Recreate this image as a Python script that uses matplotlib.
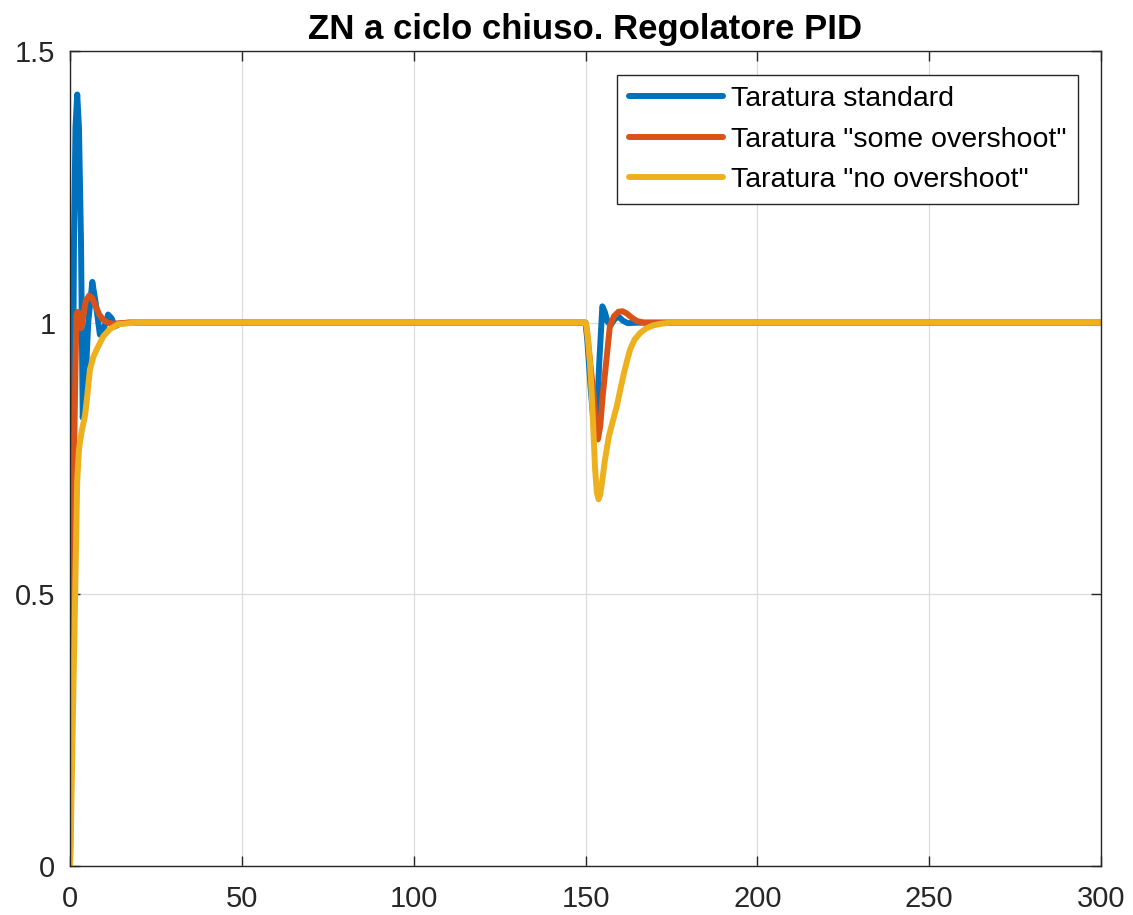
import matplotlib
matplotlib.use("Agg")
import matplotlib.pyplot as plt

plt.rcParams['font.family'] = ['Liberation Sans', 'DejaVu Sans']

title = 'ZN a ciclo chiuso. Regolatore PID'
labels = ['Taratura standard', 'Taratura "some overshoot"', 'Taratura "no overshoot"']
colors = ['#0072BD', '#D95319', '#EDB120']

t_std = [0, 0.3, 0.77, 1.16, 1.6, 2.1, 2.6, 3.2, 3.7, 4.3, 5.3, 6.5, 7.5, 8.7, 9.9,
         11.1, 12.1, 13.1, 14.5, 17, 150, 150.5, 151.5, 152.3, 153.1, 154.0, 154.9,
         155.6, 156.4, 157.3, 158.3, 159.5, 160.8, 162.3, 165, 300]
y_std = [0, 0.25, 0.75, 1.15, 1.36, 1.42, 1.36, 1.15, 0.825, 0.86, 1.0, 1.075, 1.035,
         0.978, 0.99, 1.015, 1.008, 0.993, 0.998, 1.0, 1.0, 0.97, 0.88, 0.82, 0.80,
         0.926, 1.03, 1.02, 1.002, 0.995, 1.005, 1.012, 1.004, 0.999, 1.0, 1.0]

t_some = [0, 0.3, 0.6, 1.16, 1.6, 1.9, 2.3, 2.8, 3.2, 3.8, 4.6, 5.6, 6.5, 7.5, 8.5,
          9.7, 11.0, 12.5, 14.5, 17, 150, 150.5, 151.3, 152.3, 153.0, 153.6, 154.3,
          155.0, 156.0, 157.1, 158.3, 159.6, 160.8, 162.0, 163.5, 165, 167, 170, 300]
y_some = [0, 0.2, 0.5, 0.75, 0.92, 1.015, 1.02, 0.995, 0.99, 1.01, 1.04, 1.05, 1.045,
          1.03, 1.015, 1.005, 1.0, 0.998, 0.999, 1.0, 1.0, 0.98, 0.93, 0.87, 0.81,
          0.785, 0.81, 0.865, 0.926, 0.994, 1.012, 1.02, 1.021, 1.017, 1.009, 1.003,
          1.0, 1.0, 1.0]

t_no = [0, 0.3, 0.8, 1.5, 2.1, 2.6, 2.9, 3.4, 4.4, 5.1, 5.8, 6.8, 7.8, 9.7, 11.6, 14.0,
        17, 20, 150, 150.3, 150.8, 151.3, 151.8, 152.3, 152.8, 153.3, 153.8, 154.3,
        154.9, 155.6, 156.8, 158.0, 159.1, 160.0, 161.0, 162.0, 163.0, 164.3, 165.9,
        167.5, 169.7, 172.0, 174.6, 300]
y_no = [0, 0.08, 0.26, 0.5, 0.71, 0.765, 0.78, 0.80, 0.83, 0.87, 0.914, 0.937, 0.951,
        0.975, 0.988, 0.997, 0.999, 1.0, 1.0, 0.994, 0.965, 0.926, 0.87, 0.80, 0.73,
        0.688, 0.675, 0.684, 0.71, 0.745, 0.791, 0.82, 0.846, 0.873, 0.902, 0.928,
        0.951, 0.969, 0.981, 0.989, 0.995, 0.998, 1.0, 1.0]

xticks = [0, 50, 100, 150, 200, 250, 300]
yticks = [0, 0.5, 1, 1.5]
yticklabels = ['0', '0.5', '1', '1.5']

fig = plt.figure(figsize=(11.33, 9.15), dpi=100)
ax = fig.add_axes([70/1133, 1-866/915, (1101-70)/1133, (866-51)/915])

series = [(t_std, y_std), (t_some, y_some), (t_no, y_no)]
for (t, y), c, lab in zip(series, colors, labels):
    ax.plot(t, y, color=c, lw=4.3, label=lab, solid_joinstyle='round', solid_capstyle='round')

ax.set_xlim(0, 300)
ax.set_ylim(0, 1.5)
ax.set_xticks(xticks)
ax.set_xticklabels([str(v) for v in xticks])
ax.set_yticks(yticks)
ax.set_yticklabels(yticklabels)
ax.grid(True, color='#dcdcdc', lw=0.9)
ax.set_axisbelow(True)
ax.tick_params(direction='in', length=7, width=1.0, top=True, right=True,
               labelsize=21, labelcolor='#262626', color='#262626')
ax.tick_params(axis='x', pad=14)
ax.tick_params(axis='y', pad=10.5)
for s in ax.spines.values():
    s.set_color('#262626')
    s.set_linewidth(1.0)

ax.set_title(title, fontsize=25, fontweight='bold', pad=8.5)

leg = ax.legend(loc='upper right', bbox_to_anchor=((1078-70)/1031, (866-75)/815),
                borderaxespad=0, fontsize=20.5, handlelength=3.3, handletextpad=0.3,
                labelspacing=0.5, fancybox=False, framealpha=1, edgecolor='#262626',
                borderpad=0.4)
leg.get_frame().set_linewidth(1.0)

fig.savefig('out.png', dpi=100)
